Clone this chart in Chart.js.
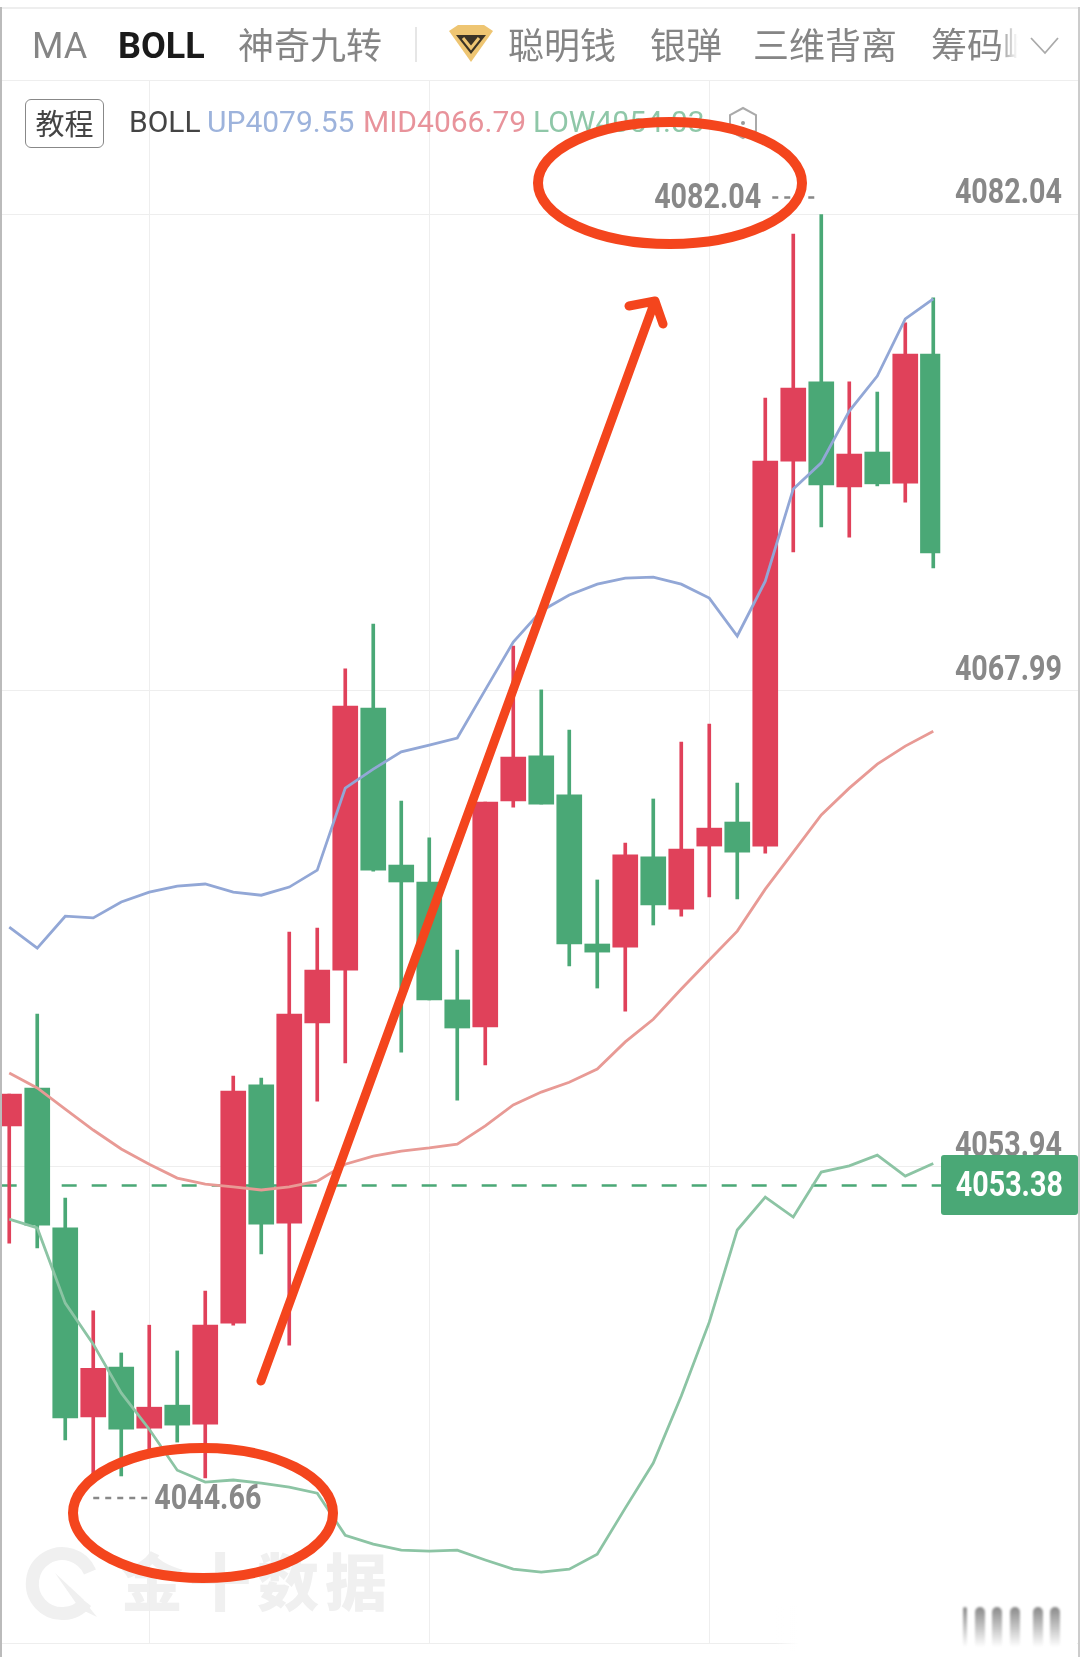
<!DOCTYPE html>
<html lang="zh-CN">
<head>
  <meta charset="UTF-8" />
  <title>BOLL</title>
  <script src="https://cdn.jsdelivr.net/npm/chart.js"></script>
  <style>
    html, body { margin: 0; padding: 0; background: #fff; }
    #page { position: relative; width: 1080px; height: 1657px; overflow: hidden; background: #fff; font-family: "Noto Sans CJK SC", sans-serif; }
    #page canvas { position: absolute; left: 0; top: 0; }
    .abs { position: absolute; white-space: nowrap; line-height: 1; }
    .tab { color: #858585; font-size: 36px; top: 25px; font-weight: 400; }
    .en { font-family: Roboto, sans-serif; font-size: 36px; top: 28px; }
    .num { font-family: Roboto, sans-serif; font-size: 30px; top: 107px; }
    .blur { width: 10px; height: 40px; top: 1607px; border-radius: 5px 5px 0 0; filter: blur(1px); background: linear-gradient(#8a8a8a, rgba(255,255,255,0)); }
    svg { position: absolute; left: 0; top: 0; }
  </style>
</head>
<body>
<div id="page">
  <!-- 水印 -->
  <svg width="130" height="1657" fill="none">
    <path d="M86 1602 A30 30 0 1 1 90 1572" stroke="#f0f0f0" stroke-width="13"/>
    <path d="M55 1573 L84 1600 L78 1606 Z M80 1596 L97 1617 L76 1607 Z" fill="#f0f0f0"/>
  </svg>
  <div class="abs" style="left:121px;top:1548px;font-size:62px;font-weight:900;color:#f0f0f0;letter-spacing:6px">金十数据</div>

  <canvas id="chart" width="1080" height="1657"></canvas>

  <div class="abs" style="left:0;top:7px;width:1080px;height:2px;background:#eee"></div>
  <div class="abs" style="left:0;top:80px;width:1080px;height:1px;background:#eee"></div>
  <div class="abs" style="left:0;top:7px;width:1.5px;height:1650px;background:#bbb"></div>
  <div class="abs" style="left:1078px;top:7px;width:1.5px;height:1650px;background:#ccc"></div>

  <div class="abs tab en" style="left:32px">MA</div>
  <div class="abs tab en" style="left:118px;font-weight:700;color:#1a1a1a">BOLL</div>
  <div class="abs tab" style="left:238px">神奇九转</div>
  <div class="abs" style="left:415px;top:27px;width:2px;height:35px;background:#e6e6e6"></div>
  <div class="abs tab" style="left:508px">聪明钱</div>
  <div class="abs tab" style="left:650px">银弹</div>
  <div class="abs tab" style="left:753px">三维背离</div>
  <div class="abs tab" style="left:931px;width:87px;overflow:hidden;-webkit-mask-image:linear-gradient(90deg,#000 78%,transparent)">筹码峰</div>

  <div class="abs" style="left:25px;top:99px;width:79px;height:49px;border:1.5px solid #888;border-radius:6px;box-sizing:border-box;font-size:29px;line-height:44px;text-align:center;color:#444">教程</div>
  <div class="abs num" style="left:129px;color:#444">BOLL</div>
  <div class="abs num" style="left:207px;color:#9db3dc">UP4079.55</div>
  <div class="abs num" style="left:363px;color:#e8939b">MID4066.79</div>
  <div class="abs num" style="left:533px;color:#8fc7a8">LOW4054.03</div>

  <div class="abs" style="left:941px;top:1155px;width:137px;height:60px;background:#4aa876;border-radius:3px;color:#fff;font-family:Roboto;font-size:35px;font-weight:700;line-height:60px;text-align:center"><span style="display:inline-block;transform:scaleX(.82)">4053.38</span></div>

  <!-- 右下角 水印糊掉的部分 -->
  <div class="abs" style="left:775px;top:1606px;width:302px;height:45px;background:linear-gradient(90deg,rgba(255,255,255,0),#fff 8%)"></div>
  <div class="abs blur" style="left:963px;width:4px"></div>
  <div class="abs blur" style="left:975px"></div>
  <div class="abs blur" style="left:992px"></div>
  <div class="abs blur" style="left:1010px"></div>
  <div class="abs blur" style="left:1033px"></div>
  <div class="abs blur" style="left:1050px"></div>

  <svg width="1080" height="1657" viewBox="0 0 1080 1657" fill="none">
    <path d="M449 31 L458 25 H484 L493 31 L471 62 Z" fill="#eec572"/>
    <path d="M456 35 H486 L471 54 Z" fill="#3b3326"/>
    <path d="M463 38 L471 48 L479 38" stroke="#eec572" stroke-width="3"/>
    <path d="M1031 38 L1045 53 L1058 38" stroke="#aaa" stroke-width="1.8"/>
    <path d="M743 108 L756 115 V131 L743 138 L730 131 V115 Z" stroke="#aaa" stroke-width="2"/>
    <circle cx="743" cy="123" r="2" fill="#999"/>
    <ellipse cx="670" cy="183" rx="132" ry="61" stroke="#f4451d" stroke-width="10"/>
    <ellipse cx="203" cy="1513" rx="130" ry="65" stroke="#f4451d" stroke-width="10"/>
    <path d="M261 1381 L655 301 M629 306 L655 301 L663 324" stroke="#f4451d" stroke-width="9" stroke-linecap="round" stroke-linejoin="round"/>
  </svg>
</div>

<script>
  // 蜡烛图 数据 (从图上读的)
  const candleIdx = [0,1,2,3,4,5,6,7,8,9,10,11,12,13,14,15,16,17,18,19,20,21,22,23,24,25,26,27,28,29,30,31,32,33];
  const up = [1,0,0,1,0,1,0,1,1,0,1,1,1,0,0,0,0,1,1,0,0,0,1,0,1,1,0,1,1,0,1,0,1,0];
  const highs = [4056.08,4058.44,4053.01,4049.68,4048.44,4049.26,4048.50,4050.27,4056.61,4056.55,4060.86,4060.98,4068.63,4069.95,4064.73,4063.64,4060.33,4064.70,4069.30,4068.01,4066.82,4062.40,4063.49,4064.79,4066.47,4067.00,4065.26,4076.62,4081.46,4082.04,4077.10,4076.80,4078.84,4079.58];
  const bodyTop = [4056.08,4056.26,4052.13,4047.99,4048.02,4046.84,4046.90,4049.26,4056.17,4056.35,4058.44,4059.74,4067.53,4067.47,4062.84,4062.34,4058.86,4064.70,4066.03,4066.06,4064.91,4060.51,4063.14,4063.08,4063.31,4063.93,4064.11,4074.76,4076.92,4077.10,4074.97,4075.03,4077.92,4077.92];
  const bodyBot = [4055.14,4052.21,4046.52,4046.55,4046.19,4046.22,4046.31,4046.34,4049.32,4052.24,4052.27,4058.18,4059.74,4062.69,4062.34,4058.86,4058.03,4058.06,4064.73,4064.64,4060.51,4060.27,4060.42,4061.66,4061.54,4063.40,4063.22,4063.40,4074.76,4074.06,4074.00,4074.09,4074.11,4072.05];
  const lows = [4051.68,4051.54,4045.87,4044.66,4044.81,4045.54,4045.81,4044.75,4049.26,4051.36,4048.67,4055.87,4057.00,4062.66,4057.32,4058.86,4055.90,4056.94,4064.55,4064.64,4059.86,4059.21,4058.53,4061.07,4061.33,4061.90,4061.84,4063.19,4072.08,4072.82,4072.52,4074.03,4073.55,4071.61];

  // BOLL
  const bollUp = [4061.01,4060.39,4061.33,4061.28,4061.75,4062.04,4062.22,4062.28,4062.04,4061.95,4062.19,4062.69,4065.11,4065.67,4066.18,4066.38,4066.59,4068.01,4069.42,4070.34,4070.81,4071.13,4071.31,4071.34,4071.13,4070.72,4069.60,4071.22,4073.94,4074.71,4076.24,4077.27,4078.96,4079.55];
  const bollMid = [4056.70,4056.26,4055.64,4055.02,4054.46,4054.01,4053.60,4053.42,4053.34,4053.25,4053.34,4053.51,4054.01,4054.25,4054.40,4054.49,4054.60,4055.14,4055.76,4056.14,4056.43,4056.82,4057.62,4058.29,4059.18,4060.04,4060.89,4062.13,4063.22,4064.32,4065.11,4065.82,4066.35,4066.79];
  const bollLow = [4052.39,4052.13,4049.91,4048.70,4047.26,4046.19,4044.98,4044.63,4044.69,4044.60,4044.48,4044.30,4043.06,4042.80,4042.62,4042.59,4042.62,4042.33,4042.06,4041.97,4042.06,4042.50,4043.86,4045.19,4047.17,4049.35,4052.07,4053.04,4052.45,4053.78,4053.96,4054.28,4053.66,4054.03];

  const lastPrice = 4053.38;
  const tickVals = [4082.04, 4067.99, 4053.94];
  const timeGrid = [5, 15, 25];
  const maxLabel = { i: 29, v: 4082.04 };
  const minLabel = { i: 3, v: 4044.66 };

  const RED = "#e0415a", GREEN = "#4aa876";
  const colors = up.map(u => u ? RED : GREEN);

  function lineSet(vals, color) {
    return {
      type: "line",
      data: vals.map((v, i) => ({ x: candleIdx[i], y: v })),
      borderColor: color, borderWidth: 2.8, pointRadius: 0, tension: 0, order: 1
    };
  }

  function narrowText(ctx, txt, x, y, align) {
    ctx.save();
    ctx.translate(x, y);
    ctx.scale(0.82, 1);
    ctx.textAlign = align;
    ctx.fillText(txt, 0, 0);
    ctx.restore();
  }

  const labelsPlugin = {
    id: "labels",
    afterDatasetsDraw(chart) {
      const { ctx, scales: { x, y } } = chart;
      ctx.save();
      ctx.fillStyle = "#888";
      ctx.textBaseline = "alphabetic";
      ctx.font = "700 35px Roboto";
      tickVals.forEach(t => narrowText(ctx, t.toFixed(2), 1062, y.getPixelForValue(t) - 11, "right"));

      // 最高 最低 标注
      ctx.setLineDash([6, 6]);
      ctx.strokeStyle = "#888";
      ctx.lineWidth = 2.5;
      const mx = x.getPixelForValue(maxLabel.i), my = y.getPixelForValue(maxLabel.v) - 17;
      ctx.beginPath(); ctx.moveTo(mx - 49, my); ctx.lineTo(mx - 6, my); ctx.stroke();
      narrowText(ctx, maxLabel.v.toFixed(2), mx - 60, my + 11, "right");
      const nx = x.getPixelForValue(minLabel.i), ny = y.getPixelForValue(minLabel.v) + 17;
      ctx.beginPath(); ctx.moveTo(nx, ny); ctx.lineTo(nx + 55, ny); ctx.stroke();
      ctx.setLineDash([]);
      narrowText(ctx, minLabel.v.toFixed(2), nx + 61, ny + 11, "left");
      ctx.restore();
    }
  };

  // 第一根和最后一根被画面截窄了, 单独一组
  const lastI = candleIdx.length - 1;
  const edgeShift = { 0: 0.09, [lastI]: -0.11 };

  new Chart(document.getElementById("chart"), {
    type: "bar",
    data: {
      datasets: [
        lineSet(bollUp, "#92a7d6"),
        lineSet(bollMid, "#e89a95"),
        lineSet(bollLow, "#8cc4a4"),
        {
          data: candleIdx.slice(1, lastI).map(c => ({ x: c, y: [bodyBot[c], bodyTop[c]] })),
          backgroundColor: colors.slice(1, lastI), barThickness: 25, order: 2
        },
        {
          data: [0, lastI].map(c => ({ x: c + edgeShift[c], y: [bodyBot[c], bodyTop[c]] })),
          backgroundColor: [colors[0], colors[lastI]], barThickness: 19.5, order: 2
        },
        {
          data: candleIdx.map((c, i) => ({ x: c, y: [lows[i], highs[i]] })),
          backgroundColor: colors, barThickness: 3, order: 3
        },
        {
          type: "line",
          data: [{ x: -0.27, y: lastPrice }, { x: 33.5, y: lastPrice }, { x: 38.24, y: lastPrice }],
          borderColor: GREEN, borderWidth: 2.5, borderDash: [15, 15], pointRadius: 0, order: 4
        }
      ]
    },
    options: {
      responsive: false,
      animation: false,
      devicePixelRatio: 1,
      layout: { padding: { top: 81, bottom: 14, left: 0, right: 0 } },
      plugins: { legend: { display: false }, tooltip: { enabled: false } },
      scales: {
        x: {
          type: "linear", min: -0.33, max: 38.24, offset: false,
          afterBuildTicks(s) { s.ticks = timeGrid.map(v => ({ value: v })); },
          ticks: { display: false },
          border: { display: false },
          grid: { color: "#eee", lineWidth: 1, drawTicks: false, offset: false }
        },
        y: {
          position: "right",
          min: 4039.88, max: 4085.98,
          afterBuildTicks(s) { s.ticks = tickVals.concat([4039.88]).map(v => ({ value: v })); },
          ticks: { display: false },
          border: { display: false },
          grid: { color: "#eee", lineWidth: 1, drawTicks: false }
        }
      },
      datasets: { bar: { grouped: false } }
    },
    plugins: [labelsPlugin]
  });
</script>
</body>
</html>
